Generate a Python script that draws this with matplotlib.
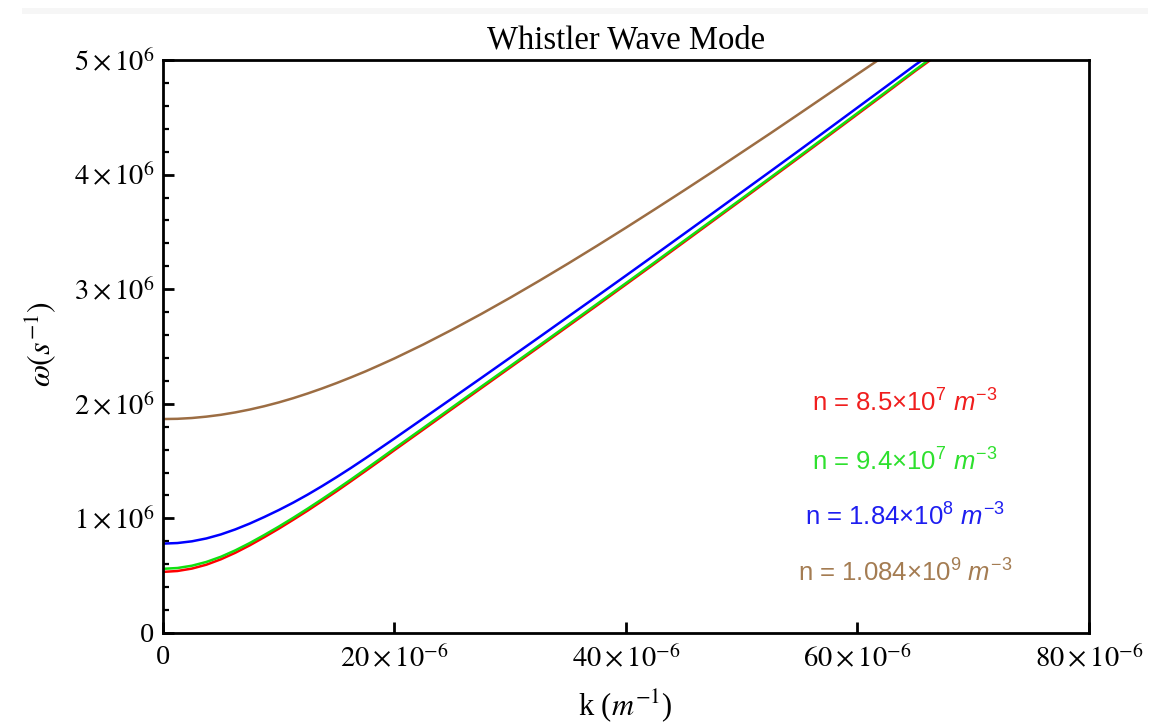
import matplotlib
matplotlib.use('Agg')
import matplotlib.pyplot as plt
from matplotlib.patches import Rectangle
from matplotlib.ticker import FixedLocator, MultipleLocator

# ======================== Data ========================
# wavenumber samples (units of 1e-6 m^-1) and frequencies (units of 1e6 s^-1)
k_red = [0, 1.25, 2.5, 3.75, 5, 6.25, 7.5, 8.75, 10, 11.25, 12.5, 13.75, 15, 16.25,
         17.5, 18.75, 20, 22.5, 25, 27.5, 30, 32.5, 35, 37.5, 40, 42.5, 45, 47.5,
         50, 52.5, 55, 57.5, 60, 62.5, 65, 66.3]
w_red = [0.533, 0.541, 0.562, 0.596, 0.643, 0.70, 0.765, 0.836, 0.91, 0.988, 1.068,
         1.152, 1.237, 1.325, 1.414, 1.504, 1.596, 1.776, 1.957, 2.137, 2.317, 2.497,
         2.678, 2.859, 3.042, 3.225, 3.41, 3.595, 3.78, 3.966, 4.152, 4.339, 4.527,
         4.715, 4.905, 5.0]

k_green = [0, 1.25, 2.5, 3.75, 5, 6.25, 7.5, 8.75, 10, 11.25, 12.5, 13.75, 15, 16.25,
           17.5, 18.75, 20, 22.5, 25, 27.5, 30, 32.5, 35, 37.5, 40, 42.5, 45, 47.5,
           50, 52.5, 55, 57.5, 60, 62.5, 65, 66.15]
w_green = [0.56, 0.567, 0.587, 0.62, 0.665, 0.721, 0.785, 0.855, 0.928, 1.005, 1.085,
           1.168, 1.253, 1.34, 1.429, 1.519, 1.61, 1.79, 1.97, 2.15, 2.329, 2.509,
           2.69, 2.871, 3.053, 3.236, 3.421, 3.605, 3.79, 3.976, 4.162, 4.349, 4.537,
           4.725, 4.914, 5.0]

k_blue = [0, 1.25, 2.5, 3.75, 5, 6.25, 7.5, 8.75, 10, 11.25, 12.5, 13.75, 15, 16.25,
          17.5, 18.75, 20, 22.5, 25, 27.5, 30, 32.5, 35, 37.5, 40, 42.5, 45, 47.5,
          50, 52.5, 55, 57.5, 60, 62.5, 65, 65.6]
w_blue = [0.78, 0.785, 0.80, 0.825, 0.86, 0.904, 0.955, 1.012, 1.0725, 1.1375, 1.2075,
          1.282, 1.36, 1.441, 1.525, 1.611, 1.6975, 1.873, 2.049, 2.2255, 2.403, 2.581,
          2.76, 2.939, 3.119, 3.300, 3.482, 3.664, 3.847, 4.030, 4.214, 4.399, 4.585,
          4.771, 4.958, 5.0]

k_brown = [0, 1.25, 2.5, 3.75, 5, 6.25, 7.5, 8.75, 10, 11.25, 12.5, 13.75, 15, 16.25,
           17.5, 18.75, 20, 22.5, 25, 27.5, 30, 32.5, 35, 37.5, 40, 42.5, 45, 47.5,
           50, 52.5, 55, 57.5, 60, 61.8]
w_brown = [1.867, 1.869, 1.876, 1.888, 1.904, 1.925, 1.950, 1.979, 2.012, 2.049, 2.090,
           2.134, 2.181, 2.231, 2.283, 2.339, 2.396, 2.518, 2.648, 2.784, 2.926, 3.073,
           3.224, 3.379, 3.537, 3.698, 3.861, 4.026, 4.194, 4.362, 4.533, 4.705, 4.877,
           5.0]

densities = [r'n = 8.5$\times$10$^{7}$ $m^{-3}$',
             r'n = 9.4$\times$10$^{7}$ $m^{-3}$',
             r'n = 1.84$\times$10$^{8}$ $m^{-3}$',
             r'n = 1.084$\times$10$^{9}$ $m^{-3}$']

x_ticks = [0, 20e-6, 40e-6, 60e-6, 80e-6]
x_ticklabels = ['0', r'$20\times10^{-6}$', r'$40\times10^{-6}$',
                r'$60\times10^{-6}$', r'$80\times10^{-6}$']
y_ticks = [0, 1e6, 2e6, 3e6, 4e6, 5e6]
y_ticklabels = ['0', r'$1\times10^{6}$', r'$2\times10^{6}$', r'$3\times10^{6}$',
                r'$4\times10^{6}$', r'$5\times10^{6}$']

# ======================== Style ========================
COLORS = ['#ff0000', '#10e010', '#0000ff', '#9c6d43']
TEXT_COLORS = ['#f01e1e', '#2ee02e', '#1e1ef0', '#a47c52']
SERIF = 'Liberation Serif'

plt.rcParams['mathtext.fontset'] = 'custom'
plt.rcParams['mathtext.rm'] = 'Liberation Sans'
plt.rcParams['mathtext.it'] = 'Liberation Sans:italic'

fig = plt.figure(figsize=(11.74, 7.24), dpi=100)
ax = fig.add_axes([0.1388, 0.1257, 0.7888, 0.7914])

# faint band along the top edge
fig.add_artist(Rectangle((22 / 1174, 1 - 14 / 724), 1126 / 1174, 6 / 724,
                         transform=fig.transFigure, color='#f6f6f6', lw=0))

series = [(k_red, w_red), (k_green, w_green), (k_blue, w_blue), (k_brown, w_brown)]
for (k, w), c in zip(series, COLORS):
    ax.plot([v * 1e-6 for v in k], [v * 1e6 for v in w], color=c, lw=1.8,
            solid_capstyle='butt', solid_joinstyle='round')

ax.set_xlim(0, 80e-6)
ax.set_ylim(0, 5e6)

for s in ax.spines.values():
    s.set_linewidth(2.0)
    s.set_color('black')

ax.xaxis.set_major_locator(FixedLocator(x_ticks))
ax.set_xticklabels(x_ticklabels, fontsize=20.5, family=SERIF, math_fontfamily='stix')
ax.yaxis.set_major_locator(FixedLocator(y_ticks))
ax.yaxis.set_minor_locator(MultipleLocator(0.2e6))
ax.set_yticklabels(y_ticklabels, fontsize=20.5, family=SERIF, math_fontfamily='stix')
ax.tick_params(axis='both', which='major', direction='in', length=8, width=2,
               top=False, right=False)
ax.tick_params(axis='x', pad=9)
ax.tick_params(axis='y', pad=6)
ax.tick_params(axis='y', which='minor', direction='in', length=4.5, width=1.6,
               right=False)

ax.set_title('Whistler Wave Mode', fontsize=23.5, family=SERIF, pad=8)
ax.set_xlabel(r'k ($m^{-1}$)', fontsize=22, family=SERIF, math_fontfamily='stix')
ax.set_ylabel(r'$\omega(s^{-1})$', fontsize=23, family=SERIF, math_fontfamily='stix')
ax.xaxis.set_label_coords(0.499, -0.094)
ax.yaxis.set_label_coords(-0.113, 0.505)

# density labels next to the curves
label_y = [0.401, 0.298, 0.202, 0.105]
for txt, c, yy in zip(densities, TEXT_COLORS, label_y):
    ax.text(0.801, yy, txt, transform=ax.transAxes, color=c, fontsize=18.5,
            family='Liberation Sans', ha='center', va='center')

plt.savefig('out.png', dpi=100)
